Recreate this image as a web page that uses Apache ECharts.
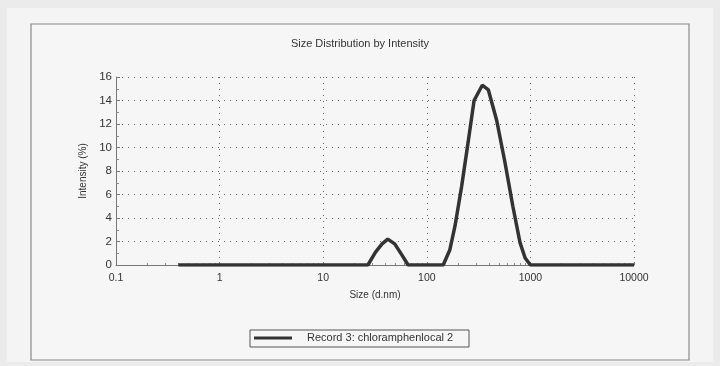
<!DOCTYPE html>
<html>
<head>
<meta charset="utf-8">
<script src="https://cdn.jsdelivr.net/npm/echarts@6/dist/echarts.min.js"></script>
<style>
html, body { margin: 0; padding: 0; background: #ebebeb; }
#chart { width: 720px; height: 366px; }
</style>
</head>
<body>
<div id="chart"></div>
<script>
var chart = echarts.init(document.getElementById('chart'));

// size (d.nm) and intensity (%)
var sizes = [0.4, 1, 10, 27, 32, 37, 42, 49, 57, 66, 100, 144, 167, 187, 217, 251, 286, 343, 393, 473, 569, 677, 794, 890, 1000, 10000];
var intensity = [0, 0, 0, 0, 1.1, 1.8, 2.2, 1.8, 0.9, 0, 0, 0, 1.3, 3.3, 6.7, 10.5, 14.0, 15.3, 14.9, 12.3, 8.7, 5.0, 1.9, 0.6, 0, 0];
var xTicks = [0.1, 1, 10, 100, 1000, 10000];
var yMax = 16;

var points = [];
for (var i = 0; i < sizes.length; i++) {
	points.push([sizes[i], intensity[i]]);
}

var font = 'Liberation Sans, Arial, sans-serif';

var option = {
	backgroundColor: '#ebebeb',
	animation: false,
	title: {
		text: 'Size Distribution by Intensity',
		left: 'center',
		top: 33,
		textStyle: { fontFamily: font, fontSize: 11, fontWeight: 'normal', color: '#333' }
	},
	graphic: [
		{ type: 'rect', z: -10, shape: { x: 7, y: 8, width: 706, height: 354 }, style: { fill: '#f4f4f4' } },
		{ type: 'rect', z: -9, shape: { x: 31, y: 24, width: 658, height: 336 }, style: { fill: '#f6f6f6', stroke: '#8a8a8a', lineWidth: 1.2 } },
		// legend box
		{ type: 'rect', shape: { x: 250, y: 330, width: 219, height: 17 }, style: { fill: '#f6f6f6', stroke: '#555', lineWidth: 1 } },
		{ type: 'line', shape: { x1: 254, y1: 338, x2: 292, y2: 338 }, style: { stroke: '#333', lineWidth: 3 } },
		{ type: 'text', x: 307, y: 338, style: { text: 'Record 3: chloramphenlocal 2', fontFamily: font, fontSize: 11, fill: '#333', verticalAlign: 'middle' } }
	],
	grid: {
		left: 116,
		right: 86,
		top: 77,
		bottom: 101
	},
	xAxis: {
		type: 'log',
		logBase: 10,
		min: xTicks[0],
		max: xTicks[xTicks.length - 1],
		name: 'Size (d.nm)',
		nameLocation: 'middle',
		nameGap: 25,
		nameTextStyle: { fontFamily: font, fontSize: 10, color: '#333' },
		axisLine: { lineStyle: { color: '#777', width: 1 } },
		axisTick: { inside: true, length: 3, lineStyle: { color: '#777' } },
		minorTick: { show: true, splitNumber: 9, length: 2, lineStyle: { color: '#888' } },
		axisLabel: {
			fontFamily: font, fontSize: 10.5, color: '#333', margin: 8,
			formatter: function (v) { return String(+v.toPrecision(6)); }
		},
		splitLine: { show: true, lineStyle: { color: '#666', type: [1, 5], width: 1 } }
	},
	yAxis: {
		type: 'value',
		min: 0,
		max: yMax,
		interval: 2,
		name: 'Intensity (%)',
		nameLocation: 'middle',
		nameRotate: 90,
		nameGap: 20,
		nameTextStyle: { fontFamily: font, fontSize: 10, color: '#333' },
		axisLine: { show: true, lineStyle: { color: '#777', width: 1 } },
		axisTick: { show: true, inside: true, length: 4, lineStyle: { color: '#777' } },
		minorTick: { show: true, splitNumber: 2, length: 3, lineStyle: { color: '#888' } },
		axisLabel: { fontFamily: font, fontSize: 11.5, color: '#333', margin: 4 },
		splitLine: { show: true, lineStyle: { color: '#666', type: [1, 5], width: 1 } }
	},
	series: [{
		name: 'Record 3: chloramphenlocal 2',
		type: 'line',
		data: points,
		showSymbol: false,
		smooth: false,
		lineStyle: { color: '#333', width: 3.5 },
		z: 5
	}]
};
chart.setOption(option);
</script>
</body>
</html>
